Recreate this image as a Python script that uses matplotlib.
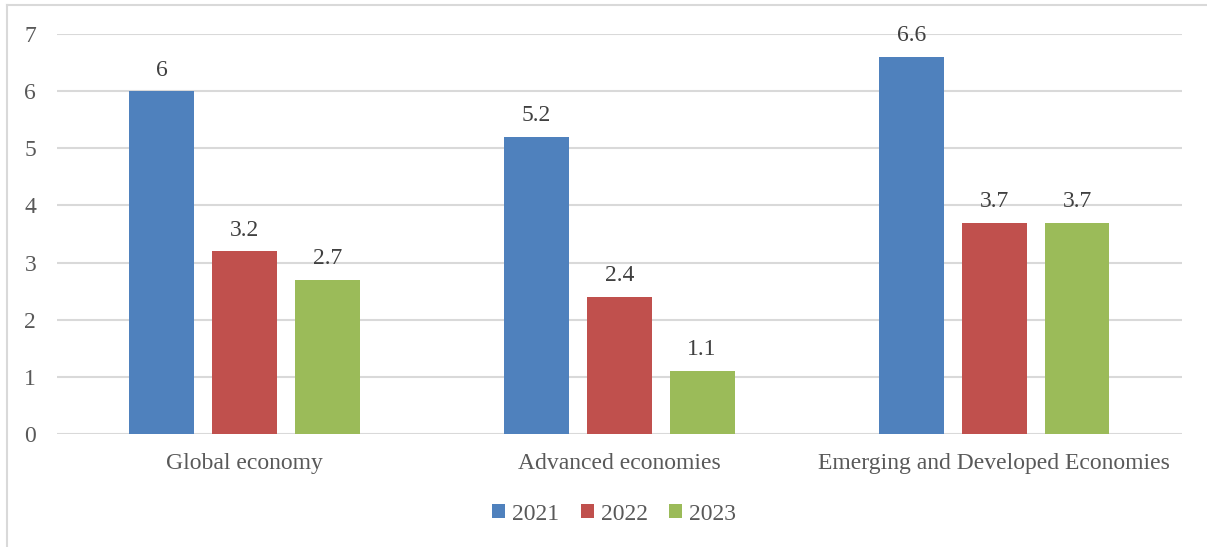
import matplotlib
matplotlib.use("Agg")
import matplotlib.pyplot as plt
from matplotlib.lines import Line2D
import numpy as np

categories = ["Global economy", "Advanced economies", "Emerging and Developed Economies"]
years = ["2021", "2022", "2023"]
values_2021 = [6, 5.2, 6.6]
values_2022 = [3.2, 2.4, 3.7]
values_2023 = [2.7, 1.1, 3.7]
yticks = [0, 1, 2, 3, 4, 5, 6, 7]

series = [values_2021, values_2022, values_2023]
colors = ["#4F81BD", "#C0504D", "#9BBB59"]

plt.rcParams["font.family"] = ["Liberation Serif", "DejaVu Serif"]

fig = plt.figure(figsize=(12.07, 5.47), dpi=100)
ax = fig.add_axes([0.0472, 0.2066, 0.9318, 0.7312])

x = np.arange(len(categories))
width = 0.173
step = 0.221
for i, (vals, col, yr) in enumerate(zip(series, colors, years)):
    pos = x + (i - 1) * step
    bars = ax.bar(pos, vals, width=width, color=col, label=yr, zorder=3)
    for b, v in zip(bars, vals):
        ax.text(b.get_x() + b.get_width() / 2, v + 0.37, f"{v:g}",
                ha="center", va="center", fontsize=17, color="#404040")

ax.set_xlim(-0.5, 2.5)
ax.set_ylim(0, 7)
ax.set_yticks(yticks)
ax.set_yticklabels([str(t) for t in yticks], fontsize=17, color="#595959")
ax.set_xticks(x)
ax.set_xticklabels(categories, fontsize=17, color="#595959")
ax.tick_params(axis="both", length=0)
ax.tick_params(axis="y", pad=15)
ax.tick_params(axis="x", pad=14)
ax.yaxis.grid(True, color="#d9d9d9", linewidth=1.5, zorder=0)
for s in ax.spines.values():
    s.set_visible(False)

leg = fig.legend(loc="center", bbox_to_anchor=(614 / 1207, 1 - 514 / 547), ncol=3,
                 frameon=False, fontsize=17, handlelength=0.55, handleheight=0.55,
                 handletextpad=0.3, columnspacing=0.9)
for t in leg.get_texts():
    t.set_color("#595959")

# outer chart frame
fig.add_artist(Line2D([7 / 1207, 1.0], [1 - 5 / 547, 1 - 5 / 547],
                      transform=fig.transFigure, color="#d9d9d9", linewidth=1.5))
fig.add_artist(Line2D([7 / 1207, 7 / 1207], [0, 1 - 5 / 547],
                      transform=fig.transFigure, color="#d9d9d9", linewidth=1.5))

fig.savefig("out.png", dpi=100)
